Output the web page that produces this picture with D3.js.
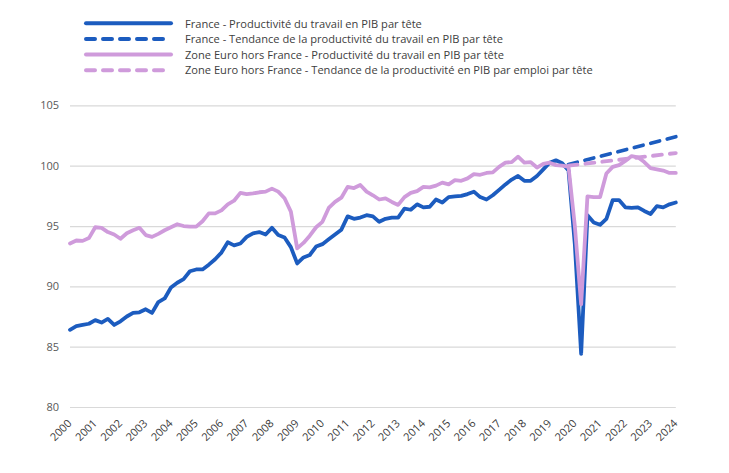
<!DOCTYPE html>
<html><head><meta charset="utf-8">
<script src="https://cdn.jsdelivr.net/npm/d3@7"></script>
<style>
html,body{margin:0;padding:0;background:#fff;}
svg{display:block;font-family:"Open Sans",sans-serif;}
</style></head>
<body><svg id="c" width="729" height="473"></svg>
<script>
// ---- DATA ----
const startYear = 2000;          // first quarter 2000Q1, quarterly data
const yearTicks = d3.range(2000, 2025);
const yTicks = [80, 85, 90, 95, 100, 105];
const seriesNames = [
  "France - Productivité du travail en PIB par tête",
  "France - Tendance de la productivité du travail en PIB par tête",
  "Zone Euro hors France - Productivité du travail en PIB par tête",
  "Zone Euro hors France - Tendance de la productivité en PIB par emploi par tête"
];
const france = [86.4,86.7,86.8,86.9,87.2,87.0,87.3,86.8,87.1,87.5,87.8,87.85,88.1,87.8,88.7,89.0,
  89.9,90.3,90.6,91.25,91.4,91.4,91.8,92.25,92.8,93.65,93.4,93.55,94.1,94.4,94.5,94.3,
  94.85,94.25,94.05,93.25,91.9,92.4,92.6,93.3,93.5,93.9,94.3,94.7,95.8,95.6,95.7,95.9,
  95.8,95.35,95.6,95.7,95.7,96.45,96.35,96.8,96.55,96.6,97.2,96.95,97.4,97.45,97.5,97.65,
  97.85,97.4,97.2,97.55,98.0,98.45,98.85,99.15,98.75,98.75,99.15,99.7,100.25,100.45,100.2,99.6,
  93.5,84.4,95.9,95.3,95.1,95.6,97.15,97.15,96.55,96.5,96.55,96.25,96.0,96.65,96.55,96.8,96.95];
const euro = [93.55,93.8,93.77,94.0,94.9,94.85,94.5,94.3,93.95,94.4,94.65,94.85,94.25,94.1,94.35,94.65,
  94.9,95.15,95.0,94.95,94.95,95.4,96.05,96.05,96.3,96.8,97.1,97.75,97.65,97.7,97.8,97.85,
  98.1,97.85,97.3,96.2,93.15,93.6,94.2,94.9,95.35,96.5,97.0,97.35,98.25,98.15,98.4,97.85,
  97.55,97.2,97.3,97.0,96.75,97.4,97.75,97.9,98.25,98.2,98.35,98.6,98.45,98.8,98.75,98.95,
  99.3,99.25,99.4,99.45,99.9,100.25,100.3,100.75,100.25,100.3,99.85,100.15,100.25,100.05,100.0,99.9,
  95.0,88.5,97.45,97.4,97.4,99.35,99.9,100.05,100.4,100.8,100.7,100.3,99.8,99.7,99.6,99.4,99.4];
const trendYears = [2019.75, 2024];
const franceTrend = [100.1, 102.4];
const euroTrend = [100.0, 101.05];

// ---- STYLE ----
const blue = "#1c5cbf", pink = "#cf9bdb";
const svg = d3.select("#c");
const x = d3.scaleLinear().domain([2000, 2024]).range([70, 675.8]);
const y = d3.scaleLinear().domain([80, 105]).range([407, 105.4]);

// gridlines + y labels
const yAxis = d3.axisLeft(y).tickValues(yTicks).tickSize(-(x.range()[1] - x.range()[0])).tickPadding(11);
const gy = svg.append("g").attr("transform", `translate(${x.range()[0]},0)`).call(yAxis);
gy.select(".domain").remove();
gy.selectAll(".tick line").attr("stroke", "#d9d9d9").attr("stroke-width", 1.2);
gy.selectAll(".tick text").attr("fill", "#595959").style("font-size", "11px").style("font-family", "'Open Sans',sans-serif");

// x labels
const xAxis = d3.axisBottom(x).tickValues(yearTicks).tickFormat(d3.format("d")).tickSize(0);
const gx = svg.append("g").attr("transform", `translate(0,${y(80)})`).call(xAxis);
gx.select(".domain").remove();
gx.selectAll(".tick text")
  .attr("fill", "#3a3a3a").style("font-size", "11px").style("font-family", "'Open Sans',sans-serif")
  .attr("text-anchor", "end").attr("dy", null).attr("y", 0)
  .attr("transform", "translate(2,17) rotate(-45)");

const line = d3.line().x(d => x(d[0])).y(d => y(d[1])).curve(d3.curveLinear);
const q = arr => arr.map((v, i) => [startYear + i / 4, v]);
const tr = arr => arr.map((v, i) => [trendYears[i], v]);

const defs = [
  {data: q(france), color: blue, dash: null},
  {data: tr(franceTrend), color: blue, dash: "9,8"},
  {data: q(euro), color: pink, dash: null},
  {data: tr(euroTrend), color: pink, dash: "9,8"}
];
defs.forEach(s => {
  svg.append("path").attr("d", line(s.data)).attr("fill", "none")
    .attr("stroke", s.color).attr("stroke-width", 3.8)
    .attr("stroke-linejoin", "round").attr("stroke-linecap", "round")
    .attr("stroke-dasharray", s.dash);
});

// legend
const legY = [23.3, 39.1, 54.5, 70.2];
const lg = svg.append("g");
defs.forEach((s, i) => {
  lg.append("line").attr("x1", 86).attr("x2", 171).attr("y1", legY[i]).attr("y2", legY[i])
    .attr("stroke", s.color).attr("stroke-width", 4).attr("stroke-linecap", "round")
    .attr("stroke-dasharray", s.dash);
  lg.append("text").attr("x", 185).attr("y", legY[i] + 4.2).text(seriesNames[i])
    .attr("fill", "#404040").style("font-size", "11.1px");
});
</script></body></html>
